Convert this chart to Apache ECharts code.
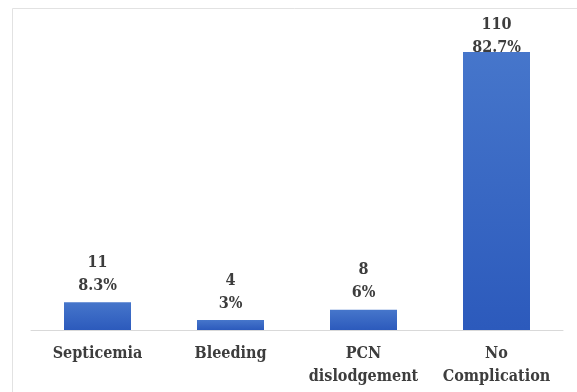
<!DOCTYPE html>
<html>
<head>
<meta charset="utf-8">
<script src="https://cdn.jsdelivr.net/npm/echarts@6/dist/echarts.min.js"></script>
<style>
  html, body { margin: 0; padding: 0; background: #fff; }
  #chart { width: 577px; height: 392px; }
</style>
</head>
<body>
<div id="chart"></div>
<script>
// Complications after percutaneous nephrostomy
const categories = ['Septicemia', 'Bleeding', 'PCN\ndislodgement', 'No\nComplication'];
const counts = [11, 4, 8, 110];
const percents = ['8.3%', '3%', '6%', '82.7%'];

const textFont = 'DejaVu Serif Condensed';

const chart = echarts.init(document.getElementById('chart'));

const barFill = new echarts.graphic.LinearGradient(0, 0, 0, 1, [
  { offset: 0, color: '#4676cb' },
  { offset: 1, color: '#2c5abc' }
]);

const seriesData = counts.map(function (v, i) {
  const item = { value: v };
  // the tallest bar's label sits tight against the plot top
  if (i === counts.length - 1) {
    item.label = { offset: [0, 12] };
  }
  return item;
});

chart.setOption({
  animation: false,
  backgroundColor: '#ffffff',
  graphic: [
    {
      type: 'polyline',
      shape: { points: [[12.5, 392], [12.5, 8.5], [577, 8.5]] },
      style: { stroke: '#e2e2e2', fill: null, lineWidth: 1 },
      silent: true
    }
  ],
  grid: { left: 31, right: 14, top: 26.7, bottom: 62 },
  xAxis: {
    type: 'category',
    data: categories,
    axisLine: { lineStyle: { color: '#d9d9d9', width: 1 } },
    axisTick: { show: false },
    axisLabel: {
      interval: 0,
      margin: 12,
      color: '#3d3d3d',
      fontFamily: textFont,
      fontWeight: 'bold',
      fontSize: 16,
      lineHeight: 23
    }
  },
  yAxis: {
    type: 'value',
    min: 0,
    max: 120,
    show: false,
    splitLine: { show: false }
  },
  series: [
    {
      type: 'bar',
      data: seriesData,
      barWidth: 67,
      itemStyle: { color: barFill },
      label: {
        show: true,
        position: 'top',
        distance: 5,
        color: '#3d3d3d',
        fontFamily: textFont,
        fontWeight: 'bold',
        fontSize: 16,
        lineHeight: 23,
        align: 'center',
        formatter: function (p) {
          return counts[p.dataIndex] + '\n' + percents[p.dataIndex];
        }
      }
    }
  ]
});
</script>
</body>
</html>
